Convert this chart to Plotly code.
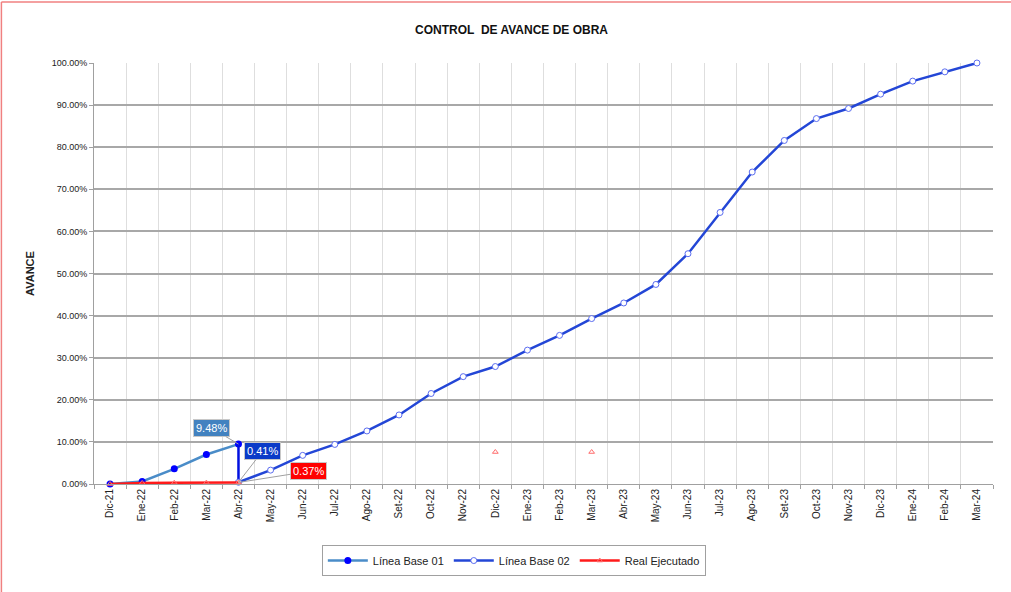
import plotly.graph_objects as go

meses = ["Dic-21", "Ene-22", "Feb-22", "Mar-22", "Abr-22", "May-22", "Jun-22", "Jul-22",
         "Ago-22", "Set-22", "Oct-22", "Nov-22", "Dic-22", "Ene-23", "Feb-23", "Mar-23",
         "Abr-23", "May-23", "Jun-23", "Jul-23", "Ago-23", "Set-23", "Oct-23", "Nov-23",
         "Dic-23", "Ene-24", "Feb-24", "Mar-24"]

# avance en %
base_01 = [0.0, 0.6, 3.6, 7.0, 9.48] + [None] * 23
base_02 = [None] * 4 + [0.41, 3.3, 6.8, 9.4, 12.6, 16.4, 21.5, 25.5, 27.9, 31.8, 35.3,
                        39.3, 43.0, 47.4, 54.7, 64.5, 74.1, 81.6, 86.8, 89.2, 92.6,
                        95.7, 97.9, 100.0]
real = [0.0, 0.25, 0.3, 0.33, 0.37] + [None] * 7 + [7.6, None, None, 7.6] + [None] * 12

ultimo = 4  # Abr-22

fig = go.Figure()

fig.add_trace(go.Scatter(
    x=meses, y=base_01, name="Línea Base 01", mode="lines+markers",
    line=dict(color="#4a8cc8", width=2.5),
    marker=dict(color="#0000ff", size=7, symbol="circle"),
    cliponaxis=False
))
# salto entre líneas base
fig.add_trace(go.Scatter(
    x=[meses[ultimo], meses[ultimo]], y=[base_01[ultimo], base_02[ultimo]],
    mode="lines", line=dict(color="#0010e0", width=2.5),
    showlegend=False, hoverinfo="skip"
))
fig.add_trace(go.Scatter(
    x=meses, y=base_02, name="Línea Base 02", mode="lines+markers",
    line=dict(color="#2346d6", width=2.5),
    marker=dict(color="white", size=6, symbol="circle",
                line=dict(color="#5a6cf0", width=1)),
    cliponaxis=False
))
fig.add_trace(go.Scatter(
    x=meses, y=real, name="Real Ejecutado", mode="lines+markers",
    line=dict(color="#ff1a1a", width=2.5),
    marker=dict(color="#ff6b6b", size=5, symbol="triangle-up-open",
                line=dict(width=1)),
    cliponaxis=False
))

etiquetas = [
    (base_01[ultimo], "#4282c0", -27, -16),
    (base_02[ultimo], "#0a3ac8", 24, -31),
    (real[ultimo], "#ff0000", 70, -11),
]
for valor, color, ax, ay in etiquetas:
    fig.add_annotation(
        x=meses[ultimo], y=valor, text=f"{valor:.2f}%",
        showarrow=True, arrowhead=0, arrowwidth=1, arrowcolor="#a0a0a0",
        ax=ax, ay=ay, bgcolor=color, bordercolor="#c8c8c8", borderwidth=1,
        borderpad=2, font=dict(color="white", size=11)
    )

# borde de la imagen
fig.add_shape(type="line", xref="paper", yref="paper", x0=-0.103, x1=1.02,
              y0=1.145, y1=1.145, line=dict(color="#f08080", width=1.5))
fig.add_shape(type="line", xref="paper", yref="paper", x0=-0.103, x1=-0.103,
              y0=-0.26, y1=1.145, line=dict(color="#f08080", width=1.5))

fig.update_layout(
    title=dict(text="<b>CONTROL  DE AVANCE DE OBRA</b>", x=0.506, y=0.949,
               xanchor="center", yanchor="middle",
               font=dict(size=12, color="#111")),
    font=dict(family="Liberation Sans, Arial, sans-serif", size=10, color="#222"),
    plot_bgcolor="white",
    paper_bgcolor="white",
    width=1011, height=592,
    margin=dict(l=94, r=18, t=63, b=108),
    legend=dict(orientation="h", x=0.467, xanchor="center", y=-0.145, yanchor="top",
                bordercolor="#a0a0a0", borderwidth=1, font=dict(size=11),
                itemwidth=40, tracegroupgap=0),
    xaxis=dict(
        type="category", tickangle=-90, tickson="boundaries",
        showgrid=True, gridcolor="#dedede", gridwidth=1,
        showline=True, linecolor="#a0a0a0", linewidth=1,
        ticks="outside", ticklen=4, tickcolor="#a0a0a0",
        tickfont=dict(size=10), range=[-0.5, 27.5]
    ),
    yaxis=dict(
        title=dict(text="<b>AVANCE</b>", font=dict(size=11), standoff=14),
        range=[0, 100], dtick=10, tickformat=".2f", ticksuffix="%",
        showgrid=True, gridcolor="#a8a8a8", gridwidth=2,
        showline=True, linecolor="#a0a0a0", linewidth=1,
        ticks="outside", ticklen=4, tickcolor="#a0a0a0",
        tickfont=dict(size=9), zeroline=False
    ),
)

fig.write_html("out.html", config={"displayModeBar": False},
               post_script="document.body.style.margin='0';")
